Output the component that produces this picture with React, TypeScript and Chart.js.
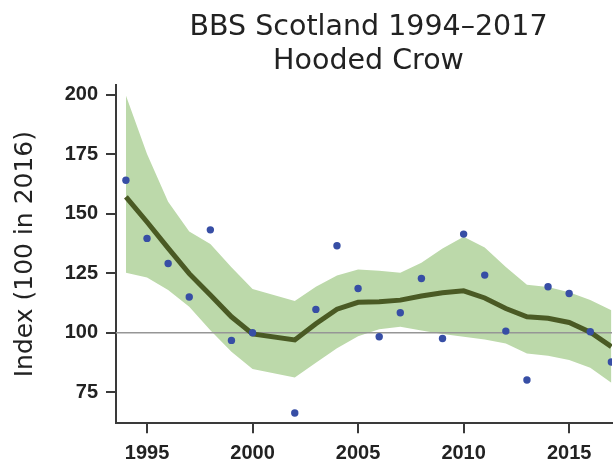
import React, { useEffect, useRef } from "react";
import { Chart, registerables } from "chart.js";

Chart.register(...registerables);

const YEARS = [1994, 1995, 1996, 1997, 1998, 1999, 2000, 2001, 2002, 2003, 2004, 2005, 2006, 2007, 2008, 2009, 2010, 2011, 2012, 2013, 2014, 2015, 2016, 2017];
const INDEX_VALUES = [164.0, 139.6, 129.1, 115.0, 143.2, 96.8, 100.0, null, 66.3, 109.8, 136.5, 118.6, 98.3, 108.4, 122.8, 97.6, 141.4, 124.2, 100.7, 80.2, 119.3, 116.5, 100.4, 87.7];
const TREND = [157.0, 146.5, 135.5, 124.8, 115.8, 106.7, 99.5, null, 97.0, 103.8, 109.9, 112.8, 113.0, 113.7, 115.4, 116.8, 117.6, 114.6, 110.2, 106.7, 106.1, 104.3, 100.2, 94.2];
const UPPER = [199.6, 175.0, 155.0, 142.5, 137.3, 127.5, 118.4, null, 113.3, 119.3, 124.0, 126.6, 126.0, 125.2, 129.4, 135.4, 140.3, 135.8, 127.6, 120.2, 119.2, 117.0, 113.7, 109.5];
const LOWER = [125.2, 123.2, 117.9, 110.9, 101.1, 92.0, 84.8, null, 81.2, 87.4, 93.5, 98.5, 101.5, 102.5, 101.0, 99.5, 98.3, 97.2, 95.5, 91.3, 90.3, 88.6, 85.3, 79.0];

const X_TICKS = [1995, 2000, 2005, 2010, 2015];
const Y_TICKS = [75, 100, 125, 150, 175, 200];
const REFERENCE = 100;
const TITLE_LINES = ["BBS Scotland 1994\u20132017", "Hooded Crow"];
const Y_TITLE = "Index (100 in 2016)";

const X_MIN = 1993.53;
const X_MAX = 2017.03;
const Y_MIN = 62;
const Y_MAX = 204;

const toPoints = (vals: (number | null)[]) =>
  YEARS.map((x, i) => ({ x, y: vals[i] })).filter((p) => p.y !== null);

const TICK_FONT = { family: "'Liberation Sans', Arial, sans-serif", size: 20, weight: "bold" as const };
const AXIS_COLOR = "#3a3a3a";

const refLinePlugin = {
  id: "refLine",
  afterLayout(chart: any) {
    // the original plot continues a little past the right edge of the picture,
    // so its title is centred on a slightly wider block
    if (chart.titleBlock) chart.titleBlock.right += 9;
  },
  beforeDatasetDraw(chart: any, args: any) {
    if (args.index !== 1) return;
    const { ctx, chartArea, scales } = chart;
    const y = scales.y.getPixelForValue(REFERENCE);
    ctx.save();
    ctx.strokeStyle = "rgb(150,150,150)";
    ctx.lineWidth = 1.6;
    ctx.beginPath();
    ctx.moveTo(chartArea.left, y);
    ctx.lineTo(chartArea.right, y);
    ctx.stroke();
    ctx.restore();
  },
};

export default function App() {
  const canvasRef = useRef<HTMLCanvasElement | null>(null);

  useEffect(() => {
    const canvas = canvasRef.current;
    if (!canvas) return;
    const chart = new Chart(canvas, {
      type: "line",
      data: {
        datasets: [
          {
            label: "Index",
            data: toPoints(INDEX_VALUES),
            showLine: false,
            pointRadius: 3.7,
            pointBorderWidth: 0,
            pointBackgroundColor: "rgb(55,78,165)",
            pointBorderColor: "rgb(55,78,165)",
            borderColor: "rgb(55,78,165)",
          },
          {
            label: "Trend",
            data: toPoints(TREND),
            borderColor: "rgb(74,90,36)",
            borderWidth: 5,
            pointRadius: 0,
            tension: 0,
            fill: false,
          },
          {
            label: "Upper",
            data: toPoints(UPPER),
            borderColor: "rgba(0,0,0,0)",
            borderWidth: 0,
            pointRadius: 0,
            backgroundColor: "rgb(188,217,170)",
            fill: "+1",
            tension: 0,
          },
          {
            label: "Lower",
            data: toPoints(LOWER),
            borderColor: "rgba(0,0,0,0)",
            borderWidth: 0,
            pointRadius: 0,
            fill: false,
            tension: 0,
          },
        ],
      },
      options: {
        animation: false,
        responsive: false,
        maintainAspectRatio: false,
        devicePixelRatio: 1,
        layout: { padding: 0 },
        plugins: {
          legend: { display: false },
          tooltip: { enabled: false },
          title: {
            display: true,
            text: TITLE_LINES,
            fullSize: false,
            color: "#222",
            font: { family: "'DejaVu Sans', Verdana, sans-serif", size: 28.5, weight: "normal", lineHeight: 1.196 },
            padding: { top: 10.2, bottom: 6.6 },
          },
        },
        scales: {
          x: {
            type: "linear",
            min: X_MIN,
            max: X_MAX,
            afterBuildTicks: (scale: any) => {
              scale.ticks = X_TICKS.map((v) => ({ value: v }));
            },
            afterFit: (scale: any) => {
              scale.height = 38.7;
            },
            ticks: {
              color: "#222",
              font: TICK_FONT,
              padding: 8,
              maxRotation: 0,
              autoSkip: false,
              callback: (v: any) => String(v),
            },
            grid: {
              display: true,
              drawOnChartArea: false,
              drawTicks: true,
              tickLength: 10,
              color: AXIS_COLOR,
              lineWidth: 2,
            },
            border: { display: true, color: AXIS_COLOR, width: 2 },
          },
          y: {
            type: "linear",
            min: Y_MIN,
            max: Y_MAX,
            afterBuildTicks: (scale: any) => {
              scale.ticks = Y_TICKS.map((v) => ({ value: v }));
            },
            afterFit: (scale: any) => {
              scale.width = 116;
            },
            ticks: {
              color: "#222",
              font: TICK_FONT,
              padding: 8,
              autoSkip: false,
              callback: (v: any) => String(v),
            },
            grid: {
              display: true,
              drawOnChartArea: false,
              drawTicks: true,
              tickLength: 10,
              color: AXIS_COLOR,
              lineWidth: 2,
            },
            border: { display: true, color: AXIS_COLOR, width: 2 },
            title: {
              display: true,
              text: Y_TITLE,
              color: "#222",
              font: { family: "'DejaVu Sans', Verdana, sans-serif", size: 25, weight: "normal" },
              padding: { top: 10, bottom: 0 },
            },
          },
        },
      },
      plugins: [refLinePlugin],
    });
    return () => chart.destroy();
  }, []);

  return (
    <div style={{ position: "fixed", left: 0, top: 0, width: 616, height: 462, background: "#fff" }}>
      <canvas ref={canvasRef} width={616} height={462} style={{ display: "block" }} />
    </div>
  );
}
